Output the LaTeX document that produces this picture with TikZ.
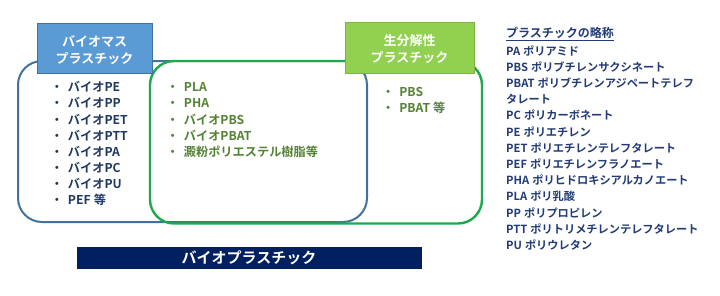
\documentclass[tikz,border=0pt]{standalone}
\usepackage{fontspec}
\setmainfont{Noto Sans CJK JP}[BoldFont={Noto Sans CJK JP Bold}]
\definecolor{bmfill}{HTML}{5B9BD5}
\definecolor{bmline}{HTML}{41719C}
\definecolor{bdfill}{HTML}{92D050}
\definecolor{bdline}{HTML}{7FB243}
\definecolor{grline}{HTML}{1DAA4E}
\definecolor{navy}{HTML}{002060}
\definecolor{listblue}{HTML}{1F3864}
\definecolor{abbrblue}{HTML}{223B75}
\definecolor{olive}{HTML}{548235}
\newcommand\gapx{\hspace{3pt}}
\begin{document}
\begin{tikzpicture}[x=1pt,y=-1pt,
  labelbox/.style={minimum width=#1,inner sep=0pt,text=white,font=\fontsize{13}{17}\selectfont\bfseries,align=center},
  item/.style={anchor=west,inner sep=0pt,font=\fontsize{12.2}{14}\selectfont\bfseries},
  abbr/.style={anchor=west,inner sep=0pt,text=abbrblue,font=\fontsize{11.2}{13}\selectfont\bfseries}]
\useasboundingbox (0,0) rectangle (720,295);
% outer regions
\draw[bmline,line width=2pt,rounded corners=24pt] (18,61) rectangle (367,222) coordinate (bmregion);
\draw[grline,line width=2.4pt,rounded corners=24pt] (150,61) rectangle (482,223.5) coordinate (bdregion);
% label boxes
\node[draw=bmline,line width=0.6pt,fill=bmfill,minimum width=115pt,minimum height=50pt,inner sep=0pt] (bmlabel) at (94.5,48) {};
\node[labelbox=115pt] (bmtext) at (94.5,50) {バイオマス\\プラスチック};
\node[draw=bdline,line width=0.6pt,fill=bdfill,minimum width=129pt,minimum height=51pt,inner sep=0pt] (bdlabel) at (409.5,47.5) {};
\node[labelbox=129pt] (bdtext) at (409.5,49.5) {生分解性\\プラスチック};
% left list
\foreach \t [count=\i] in {バイオPE,バイオPP,バイオPET,バイオPTT,バイオPA,バイオPC,バイオPU,PEF\gapx 等}
  \node[item,text=listblue] (L\i) at (50.6,86.8+16.2*\i-16.2) {・\hspace{5pt}\t};
% middle list
\foreach \t [count=\i] in {PLA,PHA,バイオPBS,バイオPBAT,澱粉ポリエステル樹脂等}
  \node[item,text=olive] (M\i) at (166.5,86.8+16.2*\i-16.2) {・\hspace{5pt}\t};
% right inner list
\foreach \t [count=\i] in {PBS,PBAT\gapx 等}
  \node[item,text=olive] (R\i) at (381.9,91.7+16.4*\i-16.4) {・\hspace{5pt}\t};
% bottom bar
\node[fill=navy,minimum width=345pt,minimum height=22pt,inner sep=0pt] (barbox) at (249.5,258) {};
\node[text=white,inner sep=0pt,font=\fontsize{15}{17}\selectfont\bfseries] (bartext) at (249,258) {バイオプラスチック};
% abbreviations
\node[abbr,font=\fontsize{12}{13}\selectfont\bfseries] (A0) at (506,34.3) {\underline{プラスチックの略称}};
\foreach \t [count=\i] in {PA\gapx ポリアミド,PBS\gapx ポリブチレンサクシネート,PBAT\gapx ポリブチレンアジペートテレフ,タレート,PC\gapx ポリカーボネート,PE\gapx ポリエチレン,PET\gapx ポリエチレンテレフタレート,PEF\gapx ポリエチレンフラノエート,PHA\gapx ポリヒドロキシアルカノエート,PLA\gapx ポリ乳酸,PP\gapx ポリプロピレン,PTT\gapx ポリトリメチレンテレフタレート,PU\gapx ポリウレタン}
  \node[abbr] (A\i) at (506,34.3+16.2*\i) {\t};
\end{tikzpicture}
\end{document}
